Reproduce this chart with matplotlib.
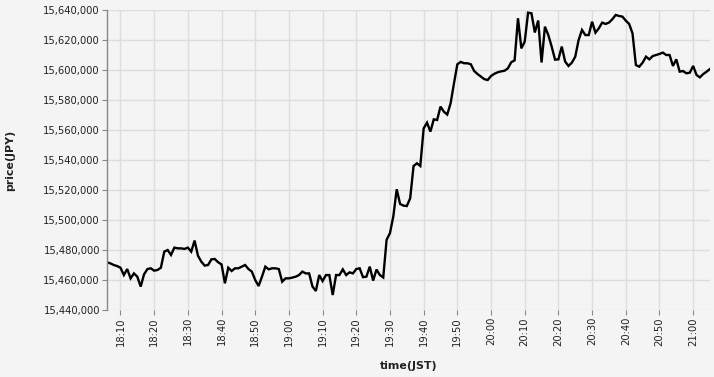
import matplotlib
matplotlib.use("Agg")
import matplotlib.pyplot as plt
import matplotlib.dates as mdates
import matplotlib.ticker as mticker
import pandas as pd

# ---- data ----
start_time = "2024-01-01 18:06"
n_points = 180
prices = [
    15471800, 15471100, 15470000, 15469300, 15468200, 15463300, 15467300, 15461100, 15464400, 15462200,
    15455600, 15463800, 15467300, 15467800, 15466200, 15466700, 15468200, 15478900, 15480000, 15476700,
    15481600, 15481100, 15481100, 15480700, 15481600, 15478900, 15486300, 15476200, 15472200, 15469600,
    15470000, 15473800, 15474000, 15471800, 15470400, 15457800, 15468200, 15466000, 15467800, 15467800,
    15468900, 15470000, 15467300, 15465600, 15460000, 15456000, 15462200, 15468900, 15467100, 15467800,
    15467800, 15467300, 15458900, 15461100, 15461100, 15461600, 15462200, 15463300, 15465600, 15464400,
    15464400, 15455600, 15452700, 15463300, 15459300, 15463300, 15463300, 15450000, 15463300, 15463300,
    15467100, 15463300, 15465100, 15464400, 15467300, 15467800, 15461900, 15462200, 15468900, 15459600,
    15467000, 15463300, 15461700, 15486800, 15491300, 15502500, 15520500, 15510700, 15509600, 15509300,
    15514500, 15536000, 15537800, 15536000, 15561100, 15564900, 15558900, 15567100, 15566700, 15575600,
    15572200, 15570300, 15577800, 15591100, 15603800, 15605400, 15604500, 15604500, 15603800, 15599300,
    15597300, 15595600, 15593900, 15593300, 15596000, 15597500, 15598500, 15599100, 15599500, 15601100,
    15605200, 15606400, 15634500, 15614400, 15618900, 15638200, 15637800, 15625000, 15633000, 15605000,
    15628900, 15623300, 15615600, 15606900, 15607100, 15615600, 15605600, 15602700, 15604900, 15608900,
    15620000, 15626700, 15623300, 15623300, 15632200, 15624900, 15627800, 15631600, 15630700, 15631600,
    15633800, 15636700, 15636000, 15635600, 15632900, 15630700, 15624400, 15603300, 15602200, 15604900,
    15608900, 15607100, 15609300, 15610000, 15610700, 15611600, 15610000, 15610000, 15602700, 15607100,
    15598900, 15599300, 15597800, 15598200, 15602700, 15596700, 15595100, 15597300, 15598900, 15600700,
]
y_ticks = [15440000 + 20000 * k for k in range(11)]
x_title = "time(JST)"
y_title = "price(JPY)"

times = pd.date_range(start_time, periods=n_points, freq="1min")

# ---- style ----
bg = "#f4f4f4"
grid_c = "#dddddd"
axis_c = "#888888"

fig = plt.figure(figsize=(7.14, 3.77), dpi=100, facecolor=bg)
ax = fig.add_axes([107 / 714, 1 - 310 / 377, 603 / 714, 300 / 377])
ax.set_facecolor(bg)

ax.plot(times, prices, color="black", lw=1.7, solid_joinstyle="miter")

ax.set_xlim(times[0], times[-1])
ax.set_ylim(y_ticks[0], y_ticks[-1])
ax.set_yticks(y_ticks)
ax.yaxis.set_major_formatter(mticker.FuncFormatter(lambda v, p: f"{int(round(v)):,}"))
ax.xaxis.set_major_locator(mdates.MinuteLocator(byminute=[0, 10, 20, 30, 40, 50]))
ax.xaxis.set_major_formatter(mdates.DateFormatter("%H:%M"))

ax.grid(True, color=grid_c, lw=1.0)
ax.set_axisbelow(True)
for s in ["top", "right", "bottom"]:
    ax.spines[s].set_visible(False)
ax.spines["left"].set_color(axis_c)
ax.spines["left"].set_linewidth(1.0)

ax.tick_params(axis="both", colors=axis_c, length=3.6, width=0.8, labelsize=7.2,
               labelcolor="#222222", pad=1.5)
for lab in ax.get_xticklabels():
    lab.set_rotation(90)

ax.set_xlabel(x_title, fontsize=7.9, fontweight="bold", color="#222222")
ax.set_ylabel(y_title, fontsize=7.9, fontweight="bold", color="#222222")
ax.xaxis.set_label_coords(0.5, -0.17)
ax.yaxis.set_label_coords(-0.152, 0.5)

fig.savefig("out.png", dpi=100, facecolor=bg)
